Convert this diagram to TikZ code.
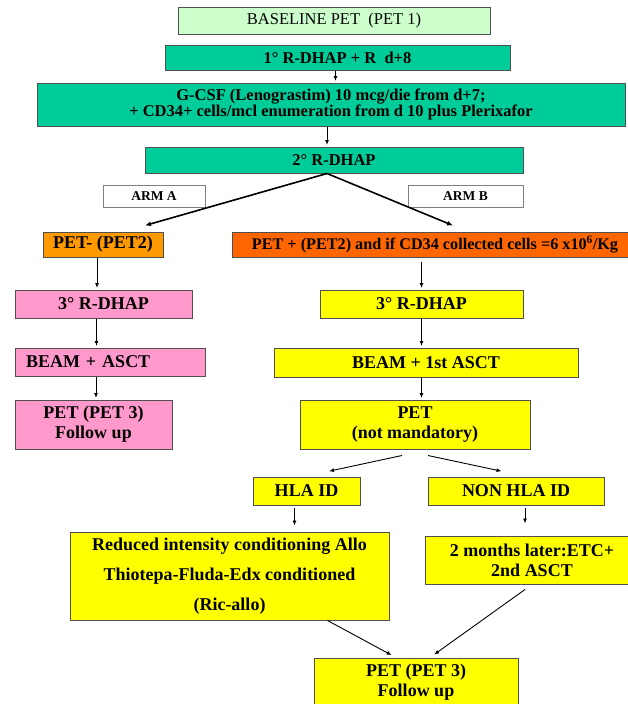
\documentclass[tikz,border=0pt]{standalone}
\usepackage{fontspec}
\setmainfont{Liberation Serif}
\usetikzlibrary{arrows.meta, positioning, calc}
\definecolor{tealbox}{HTML}{00CC99}
\definecolor{palegreen}{HTML}{CCFFCC}
\definecolor{armaorange}{HTML}{FF9900}
\definecolor{armbred}{HTML}{FF6600}
\definecolor{armapink}{HTML}{FF99CC}
\definecolor{armbyellow}{HTML}{FFFF00}
\definecolor{edgegray}{HTML}{505050}

\begin{document}
\begin{tikzpicture}[
  x=1pt, y=-1pt,
  box/.style={
    rectangle, draw=edgegray, line width=1pt, inner sep=0pt, align=center,
    font=\fontsize{18}{20}\selectfont\bfseries,
  },
  tealcell/.style={box, fill=tealbox, font=\fontsize{16.5}{16}\selectfont\bfseries},
  pinkcell/.style={box, fill=armapink},
  yellowcell/.style={box, fill=armbyellow},
  armlabel/.style={box, fill=white, draw=gray, font=\fontsize{13.5}{15}\selectfont\bfseries},
  arr/.style={-{Latex[length=5pt,width=4pt]}, line width=0.9pt, shorten >=1.5pt},
  split/.style={-{Latex[length=6pt,width=5pt]}, line width=1.6pt},
]
  \useasboundingbox (0,0) rectangle (627,704);

  % Common trunk
  \node[box, fill=palegreen, minimum width=312, minimum height=27,
        font=\fontsize{16.5}{18}\selectfont] (base) at (334, 20.5) {BASELINE PET\ \ (PET 1)};
  \node[tealcell, minimum width=345, minimum height=25] (rdhapone) at (337.5, 57.5) {1° R-DHAP + R\ \ d+8};
  \node[tealcell, minimum width=588, minimum height=43] (gcsf) at (331, 104.5)
    {G-CSF (Lenograstim) 10 mcg/die from d+7;\\+ CD34+ cells/mcl enumeration from d 10 plus Plerixafor};
  \node[tealcell, minimum width=378, minimum height=26] (rdhaptwo) at (334, 160) {2° R-DHAP};

  % Arm labels
  \node[armlabel, minimum width=102, minimum height=22] (arma) at (154, 196) {ARM A};
  \node[armlabel, minimum width=115, minimum height=22] (armb) at (465.5, 196) {ARM B};

  % Arm A
  \node[box, fill=armaorange, minimum width=120, minimum height=25] (petneg) at (103, 244.5) {PET- (PET2)};
  \node[pinkcell, minimum width=177, minimum height=28] (pinkrdhap) at (103.5, 304) {3° R-DHAP};
  \node[pinkcell, text width=168pt, inner xsep=11pt, align=left, minimum height=28] (pinkbeam) at (110, 362) {BEAM + ASCT};
  \node[pinkcell, minimum width=157, minimum height=49] (pinkpet) at (93.5, 424.5) {PET (PET 3)\\Follow up};

  % Arm B
  \node[box, fill=armbred, anchor=west, minimum width=405, minimum height=25,
        font=\fontsize{16.2}{18}\selectfont\bfseries] (petpos) at (232, 244.5)
    {PET + (PET2) and if CD34 collected cells =6 x10\textsuperscript{6}/Kg};
  \node[yellowcell, minimum width=203, minimum height=28] (yelrdhap) at (421.5, 304) {3° R-DHAP};
  \node[yellowcell, minimum width=304, minimum height=29] (yelbeam) at (426, 362.5) {BEAM + 1st ASCT};
  \node[yellowcell, minimum width=230, minimum height=49] (yelpet) at (415, 424.5) {PET\\(not mandatory)};
  \node[yellowcell, minimum width=107, minimum height=28] (hla) at (306.5, 491) {HLA ID};
  \node[yellowcell, minimum width=176, minimum height=28] (nonhla) at (516, 491) {NON HLA ID};
  \node[yellowcell, minimum width=319, minimum height=88, font=\fontsize{18}{30}\selectfont\bfseries] (ricallo) at (229.5, 576)
    {Reduced intensity conditioning Allo\\Thiotepa-Fluda-Edx conditioned\\(Ric-allo)};
  \node[yellowcell, minimum width=214, minimum height=48] (secasct) at (532, 560) {2 months later:ETC+\\2nd ASCT};
  \node[yellowcell, minimum width=204, minimum height=49] (finalpet) at (416, 682.5) {PET (PET 3)\\Follow up};

  % Connectors
  \draw[arr] ([xshift=-2pt]rdhapone.south) -- ([xshift=-2pt]rdhapone.south |- gcsf.north);
  \draw[arr] ([xshift=-4pt]gcsf.south) -- ([xshift=-4pt]gcsf.south |- rdhaptwo.north);
  \draw[split] ([xshift=-7pt]rdhaptwo.south) -- ([xshift=42pt, yshift=6pt]petneg.north);
  \draw[split] ([xshift=-7pt]rdhaptwo.south) -- ([xshift=18pt, yshift=6pt]petpos.north);

  \draw[arr] ([xshift=-6pt]petneg.south) -- ([xshift=-6pt]petneg.south |- pinkrdhap.north);
  \draw[arr] ([xshift=-7pt]pinkrdhap.south) -- ([xshift=-7pt]pinkrdhap.south |- pinkbeam.north);
  \draw[arr] ([xshift=-14pt]pinkbeam.south) -- ([xshift=-14pt]pinkbeam.south |- pinkpet.north);

  \draw[arr, shorten <=4pt] (yelrdhap.north |- petpos.south) -- (yelrdhap.north);
  \draw[arr] (yelrdhap.south) -- (yelrdhap.south |- yelbeam.north);
  \draw[arr] (yelrdhap.south |- yelbeam.south) -- (yelrdhap.south |- yelpet.north);

  \draw[arr] ([xshift=-13pt, yshift=-6pt]yelpet.south) -- ([xshift=21pt, yshift=5pt]hla.north);
  \draw[arr] ([xshift=13pt, yshift=-6pt]yelpet.south) -- ([xshift=-13pt, yshift=5pt]nonhla.north);
  \draw[arr, shorten <=2pt, shorten >=6pt] ([xshift=-12pt]hla.south) -- ([xshift=-12pt]hla.south |- ricallo.north);
  \draw[arr, shorten <=2pt, shorten >=12pt] ([xshift=9pt]nonhla.south) -- ([xshift=9pt]nonhla.south |- secasct.north);

  \draw[arr, shorten >=5pt] ([xshift=98pt]ricallo.south) -- ([xshift=-20pt]finalpet.north);
  \draw[arr, shorten >=5pt] ([xshift=-7pt, yshift=-5pt]secasct.south) -- ([xshift=14pt]finalpet.north);
\end{tikzpicture}
\end{document}
